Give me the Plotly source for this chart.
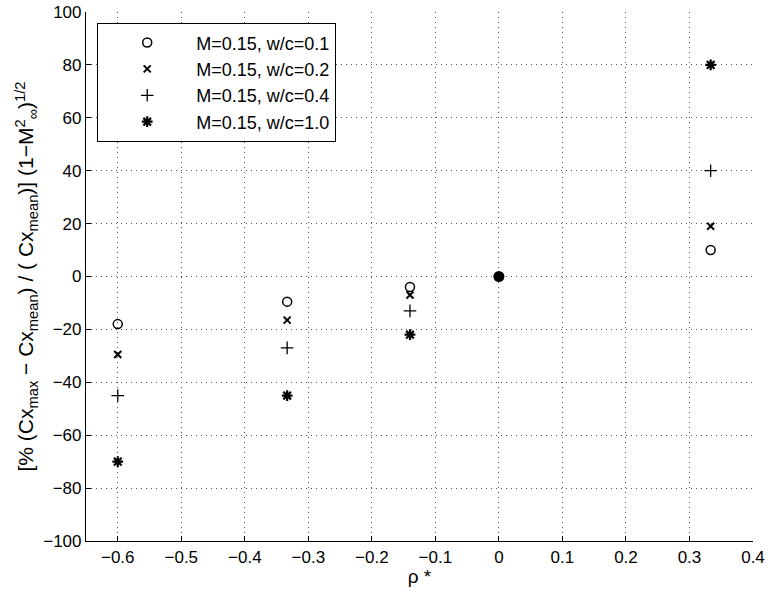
import plotly.graph_objects as go

rho = [-0.6, -1/3, -0.14, 1/3]
wc01 = [-18, -9.5, -4, 10]
wc02 = [-29.5, -16.5, -7, 19]
wc04 = [-45, -27, -13, 40]
wc10 = [-70, -45, -22, 80]
ref_x = [0.0]
ref_y = [0.0]

labels = ["M=0.15, w/c=0.1", "M=0.15, w/c=0.2", "M=0.15, w/c=0.4", "M=0.15, w/c=1.0"]
series = [wc01, wc02, wc04, wc10]
symbols = ["circle-open", "x-thin-open", "cross-thin-open", "asterisk-open"]
sizes = [9, 7, 9, 9]
widths = [1.5, 2, 1.3, 2.2]

fig = go.Figure()
for lab, ys, sym, sz, w in zip(labels, series, symbols, sizes, widths):
    fig.add_trace(go.Scatter(x=rho, y=ys, mode="markers", name=lab,
                             marker=dict(symbol=sym, size=sz, color="black",
                                         line=dict(color="black", width=w))))
fig.add_trace(go.Scatter(x=ref_x, y=ref_y, mode="markers", showlegend=False,
                         marker=dict(symbol="circle", size=11, color="black")))

axis_common = dict(showline=True, linecolor="black", linewidth=1.2, mirror=False,
                   ticks="inside", ticklen=5, tickcolor="black", automargin=False,
                   ticklabeloverflow="allow",
                   showgrid=True, gridcolor="#555", griddash="1px,4px", gridwidth=1,
                   zeroline=False, tickfont=dict(size=17, color="black"))

fig.update_xaxes(range=[-0.65, 0.4], tickvals=[-0.6, -0.5, -0.4, -0.3, -0.2, -0.1, 0, 0.1, 0.2, 0.3, 0.4],
                 ticktext=["\u22120.6", "\u22120.5", "\u22120.4", "\u22120.3", "\u22120.2", "\u22120.1", "0", "0.1", "0.2", "0.3", "0.4"],
                 title=dict(text="\u03c1 *", font=dict(size=19, color="black"), standoff=2),
                 **axis_common)
fig.update_yaxes(range=[-100, 100], tickvals=list(range(-100, 101, 20)),
                 ticktext=[("\u2212" + str(-v)) if v < 0 else str(v) for v in range(-100, 101, 20)],
                 title=dict(text="[% (Cx<sub>max</sub> \u2212 Cx<sub>mean</sub>) / ( Cx<sub>mean</sub>)] (1\u2212M<sup>2</sup><sub>\u221e</sub>)<sup>1/2</sup>",
                            font=dict(size=21, color="black"), standoff=3),
                 **axis_common)

fig.update_layout(width=770, height=592,
                  margin=dict(l=86, r=17, t=12, b=51),
                  paper_bgcolor="white", plot_bgcolor="white",
                  font=dict(family="Liberation Sans, Arial, sans-serif", color="black"),
                  legend=dict(x=0.0165, y=0.979, xanchor="left", yanchor="top",
                              bgcolor="white", bordercolor="black", borderwidth=1.2,
                              font=dict(size=18, color="black"),
                              itemwidth=88),
                  showlegend=True)

# remove the browser's default 8px body margin so the figure fills the window exactly
fig.write_html("out.html", config={"displayModeBar": False},
               post_script="document.body.style.margin='0px';")
